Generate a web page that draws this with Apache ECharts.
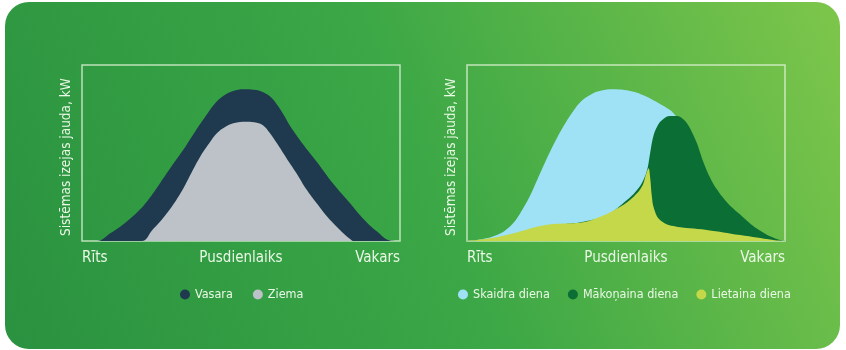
<!DOCTYPE html>
<html>
<head>
<meta charset="utf-8">
<script src="https://cdn.jsdelivr.net/npm/echarts@6/dist/echarts.min.js"></script>
<style>
html,body{margin:0;padding:0;background:#ffffff;}
#main{width:846px;height:350px;}
</style>
</head>
<body>
<div id="main"></div>
<script>
// ---- data ----
const timeLabels = ['Rīts', 'Pusdienlaiks', 'Vakars'];
const yTitle = 'Sistēmas izejas jauda, kW';
const seasonNames = ['Vasara', 'Ziema'];
const weatherNames = ['Skaidra diena', 'Mākoņaina diena', 'Lietaina diena'];

const vasara = [[0,0],[4.7,0],[9,4.5],[14,11],[18.3,18],[21.5,25],[24.6,33],[28,42],[31.9,52],[35.5,62],[39.3,72],[42,78.5],[44.5,82.5],[47.5,85.2],[50.8,86.2],[54,86],[57,84.5],[59.5,81.5],[61.3,77.5],[63.5,71.5],[65.4,65.5],[69.5,55],[73.8,45],[79,32.5],[84.3,21.4],[88.5,12.5],[92.7,5.5],[96.9,0.3],[100,0]];
const ziema = [[0,0],[18.8,0],[22,6],[25.7,13.5],[28.8,21],[31.9,30],[34.5,39],[37.2,48],[40,55.5],[42.4,61.2],[45,64.8],[47.6,66.9],[51.8,67.8],[55,67.2],[57,65.6],[59,61.5],[61.3,55.5],[64.5,46.5],[67.5,38.4],[70.5,29.5],[73.8,21.4],[77,14],[80.1,8.1],[82.5,3.8],[84.3,1.2],[85.5,0],[100,0]];

const skaidra = [[0,0],[2,0.3],[6,1.5],[9.4,3.4],[12,6],[14.7,10.5],[17.3,17.5],[19.9,26],[23,38.5],[26.2,51],[29.8,63.5],[33.5,74],[36,79.5],[38.7,83],[42,85.3],[46.1,86.2],[49.5,85.8],[52.4,84.8],[55.5,82.8],[58.6,80],[62,76.5],[65,72.5],[67,67],[70.2,52],[73.3,34],[76.4,17],[80.6,4.4],[83.8,0],[100,0]];
const makonaina = [[0,0],[9.4,1.5],[17.8,4.7],[28.3,9],[36.6,11],[44,14.8],[50.3,23.3],[53,28],[55,33],[56.6,40],[57.6,50],[58.6,59.5],[59.8,65],[61.2,68.5],[63.9,71],[66,71],[67.8,69.5],[69.1,67],[70.7,62],[72.3,55.5],[74.3,45],[76.3,36.5],[78.5,29.5],[82,21.5],[85.9,15],[89,10],[92.1,6],[95.5,2.5],[98.4,0.5],[100,0]];
const lietaina = [[0,0],[7.3,1.5],[14.7,4.4],[22,8.1],[27.2,9.7],[31.4,10],[35.6,10.4],[41.9,13.8],[48.2,19.5],[52.4,25.2],[55,30.9],[56.4,38.4],[57.1,41.3],[57.6,36],[58.1,26],[58.8,18.5],[60.7,12],[64.9,8.5],[75.4,6.3],[85.9,3.4],[96.3,0.6],[100,0]];

const colors = {
  vasara: '#1f3a4e', ziema: '#bcc2c7',
  skaidra: '#9fe2f6', makonaina: '#0b6e34', lietaina: '#c4d84a'
};
const textColor = '#eaf8e6';
const font = '"DejaVu Sans Condensed", "Liberation Sans Narrow", sans-serif';

const chart = echarts.init(document.getElementById('main'));

function xAxisFor(gridIndex) {
  return {
    type: 'value', gridIndex, min: 0, max: 100, interval: 50,
    axisLine: {show: false}, axisTick: {show: false}, splitLine: {show: false},
    axisLabel: {
      color: textColor, fontSize: 15, fontFamily: font, margin: 10,
      alignMinLabel: 'left', alignMaxLabel: 'right',
      formatter: v => timeLabels[Math.round(v / 50)]
    }
  };
}
function yAxisFor(gridIndex) {
  return {
    type: 'value', gridIndex, min: 0, max: 100,
    axisLine: {show: false}, axisTick: {show: false}, splitLine: {show: false},
    axisLabel: {show: false}
  };
}
function area(name, data, color, idx, z) {
  return {
    name, type: 'line', data, xAxisIndex: idx, yAxisIndex: idx,
    smooth: 0.4, symbol: 'none', z,
    lineStyle: {width: 0, color}, itemStyle: {color},
    areaStyle: {color, opacity: 1}
  };
}

const option = {
  animation: false,
  graphic: [
    {
      type: 'rect', z: -100, silent: true,
      shape: {x: 5, y: 2, width: 835, height: 347, r: 24},
      style: {
        fill: new echarts.graphic.LinearGradient(0, 1, 1, 0, [
          {offset: 0, color: '#2a9240'},
          {offset: 0.5, color: '#3ba746'},
          {offset: 1, color: '#7ec64b'}
        ])
      }
    },
    {
      type: 'text', x: 73, y: 236, rotation: Math.PI / 2, z: 10,
      style: {text: yTitle, fill: textColor, font: '13.5px ' + font, align: 'left', verticalAlign: 'bottom'}
    },
    {
      type: 'text', x: 458, y: 236, rotation: Math.PI / 2, z: 10,
      style: {text: yTitle, fill: textColor, font: '13.5px ' + font, align: 'left', verticalAlign: 'bottom'}
    }
  ],
  grid: [
    {left: 82, top: 65, width: 318, height: 176, show: true, borderColor: 'rgba(225,242,215,0.8)', borderWidth: 1.5, backgroundColor: 'transparent'},
    {left: 467, top: 65, width: 318, height: 176, show: true, borderColor: 'rgba(225,242,215,0.8)', borderWidth: 1.5, backgroundColor: 'transparent'}
  ],
  xAxis: [xAxisFor(0), xAxisFor(1)],
  yAxis: [yAxisFor(0), yAxisFor(1)],
  legend: [
    {
      data: seasonNames, left: 175, top: 283, icon: 'circle', itemWidth: 10, itemHeight: 10, itemGap: 20,
      textStyle: {color: textColor, fontSize: 12.5, fontFamily: font}
    },
    {
      data: weatherNames, left: 453, top: 283, icon: 'circle', itemWidth: 10, itemHeight: 10, itemGap: 18,
      textStyle: {color: textColor, fontSize: 12.5, fontFamily: font}
    }
  ],
  series: [
    area(seasonNames[0], vasara, colors.vasara, 0, 2),
    area(seasonNames[1], ziema, colors.ziema, 0, 3),
    area(weatherNames[0], skaidra, colors.skaidra, 1, 2),
    area(weatherNames[1], makonaina, colors.makonaina, 1, 3),
    area(weatherNames[2], lietaina, colors.lietaina, 1, 4)
  ]
};
chart.setOption(option);
</script>
</body>
</html>
